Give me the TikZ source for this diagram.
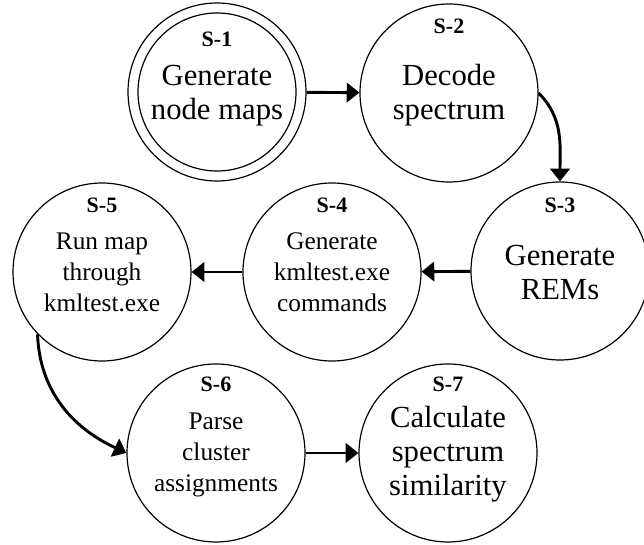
\documentclass[tikz,border=0pt]{standalone}
\usepackage{fontspec}
\setmainfont{Liberation Serif}
\usetikzlibrary{arrows.meta}
\begin{document}
\begin{tikzpicture}[x=0.75pt,y=0.75pt,
  stepcirc/.style={draw, circle, line width=0.9pt, minimum size=133.5pt, inner sep=0pt},
  steptag/.style={anchor=base, font=\bfseries\fontsize{16.5}{18}\selectfont},
  bigtext/.style={align=center, inner sep=0pt, font=\fontsize{23}{25.5}\selectfont},
  smalltext/.style={align=center, inner sep=0pt, font=\fontsize{19}{23.25}\selectfont},
  flow/.style={line width=2.2pt, -{Triangle[length=9.5pt,width=14.5pt]}}]
\useasboundingbox (0,0) rectangle (644,-545);
\node [stepcirc] (s1) at (217,-92) {};
\node [stepcirc, minimum size=118.5pt] (s1in) at (s1) {};
\node [steptag] (s1tag) at (217,-47) {S-1};
\node [bigtext] (s1txt) at (217,-96) {Generate\\node maps};
\node [stepcirc] (s2) at (449,-93) {};
\node [steptag] (s2tag) at (449,-34) {S-2};
\node [bigtext] (s2txt) at (449,-95) {Decode\\spectrum};
\node [stepcirc] (s3) at (560,-271) {};
\node [steptag] (s3tag) at (560,-213) {S-3};
\node [bigtext] (s3txt) at (560,-273) {Generate\\REMs};
\node [stepcirc] (s4) at (332,-272) {};
\node [steptag] (s4tag) at (332,-213) {S-4};
\node [smalltext] (s4txt) at (332,-272) {Generate\\kmltest.exe\\commands};
\node [stepcirc] (s5) at (102,-272) {};
\node [steptag] (s5tag) at (102,-213) {S-5};
\node [smalltext] (s5txt) at (102,-272) {Run map\\through\\kmltest.exe};
\node [stepcirc] (s6) at (216,-453) {};
\node [steptag] (s6tag) at (216,-392) {S-6};
\node [smalltext] (s6txt) at (216,-455) {Parse\\cluster\\assignments};
\node [stepcirc] (s7) at (448,-453) {};
\node [steptag] (s7tag) at (448,-392) {S-7};
\node [bigtext] (s7txt) at (448,-454) {Calculate\\spectrum\\similarity};
\draw [flow] (s1) -- (s2);
\draw [flow] (s2.east) to [out=-45, in=90] (s3.north);
\draw [flow] (s3) -- (s4);
\draw [flow] (s4) -- (s5);
\draw [flow] (s5.224) to [out=-88, in=155] (s6.west);
\draw [flow] (s6) -- (s7);
\end{tikzpicture}
\end{document}
